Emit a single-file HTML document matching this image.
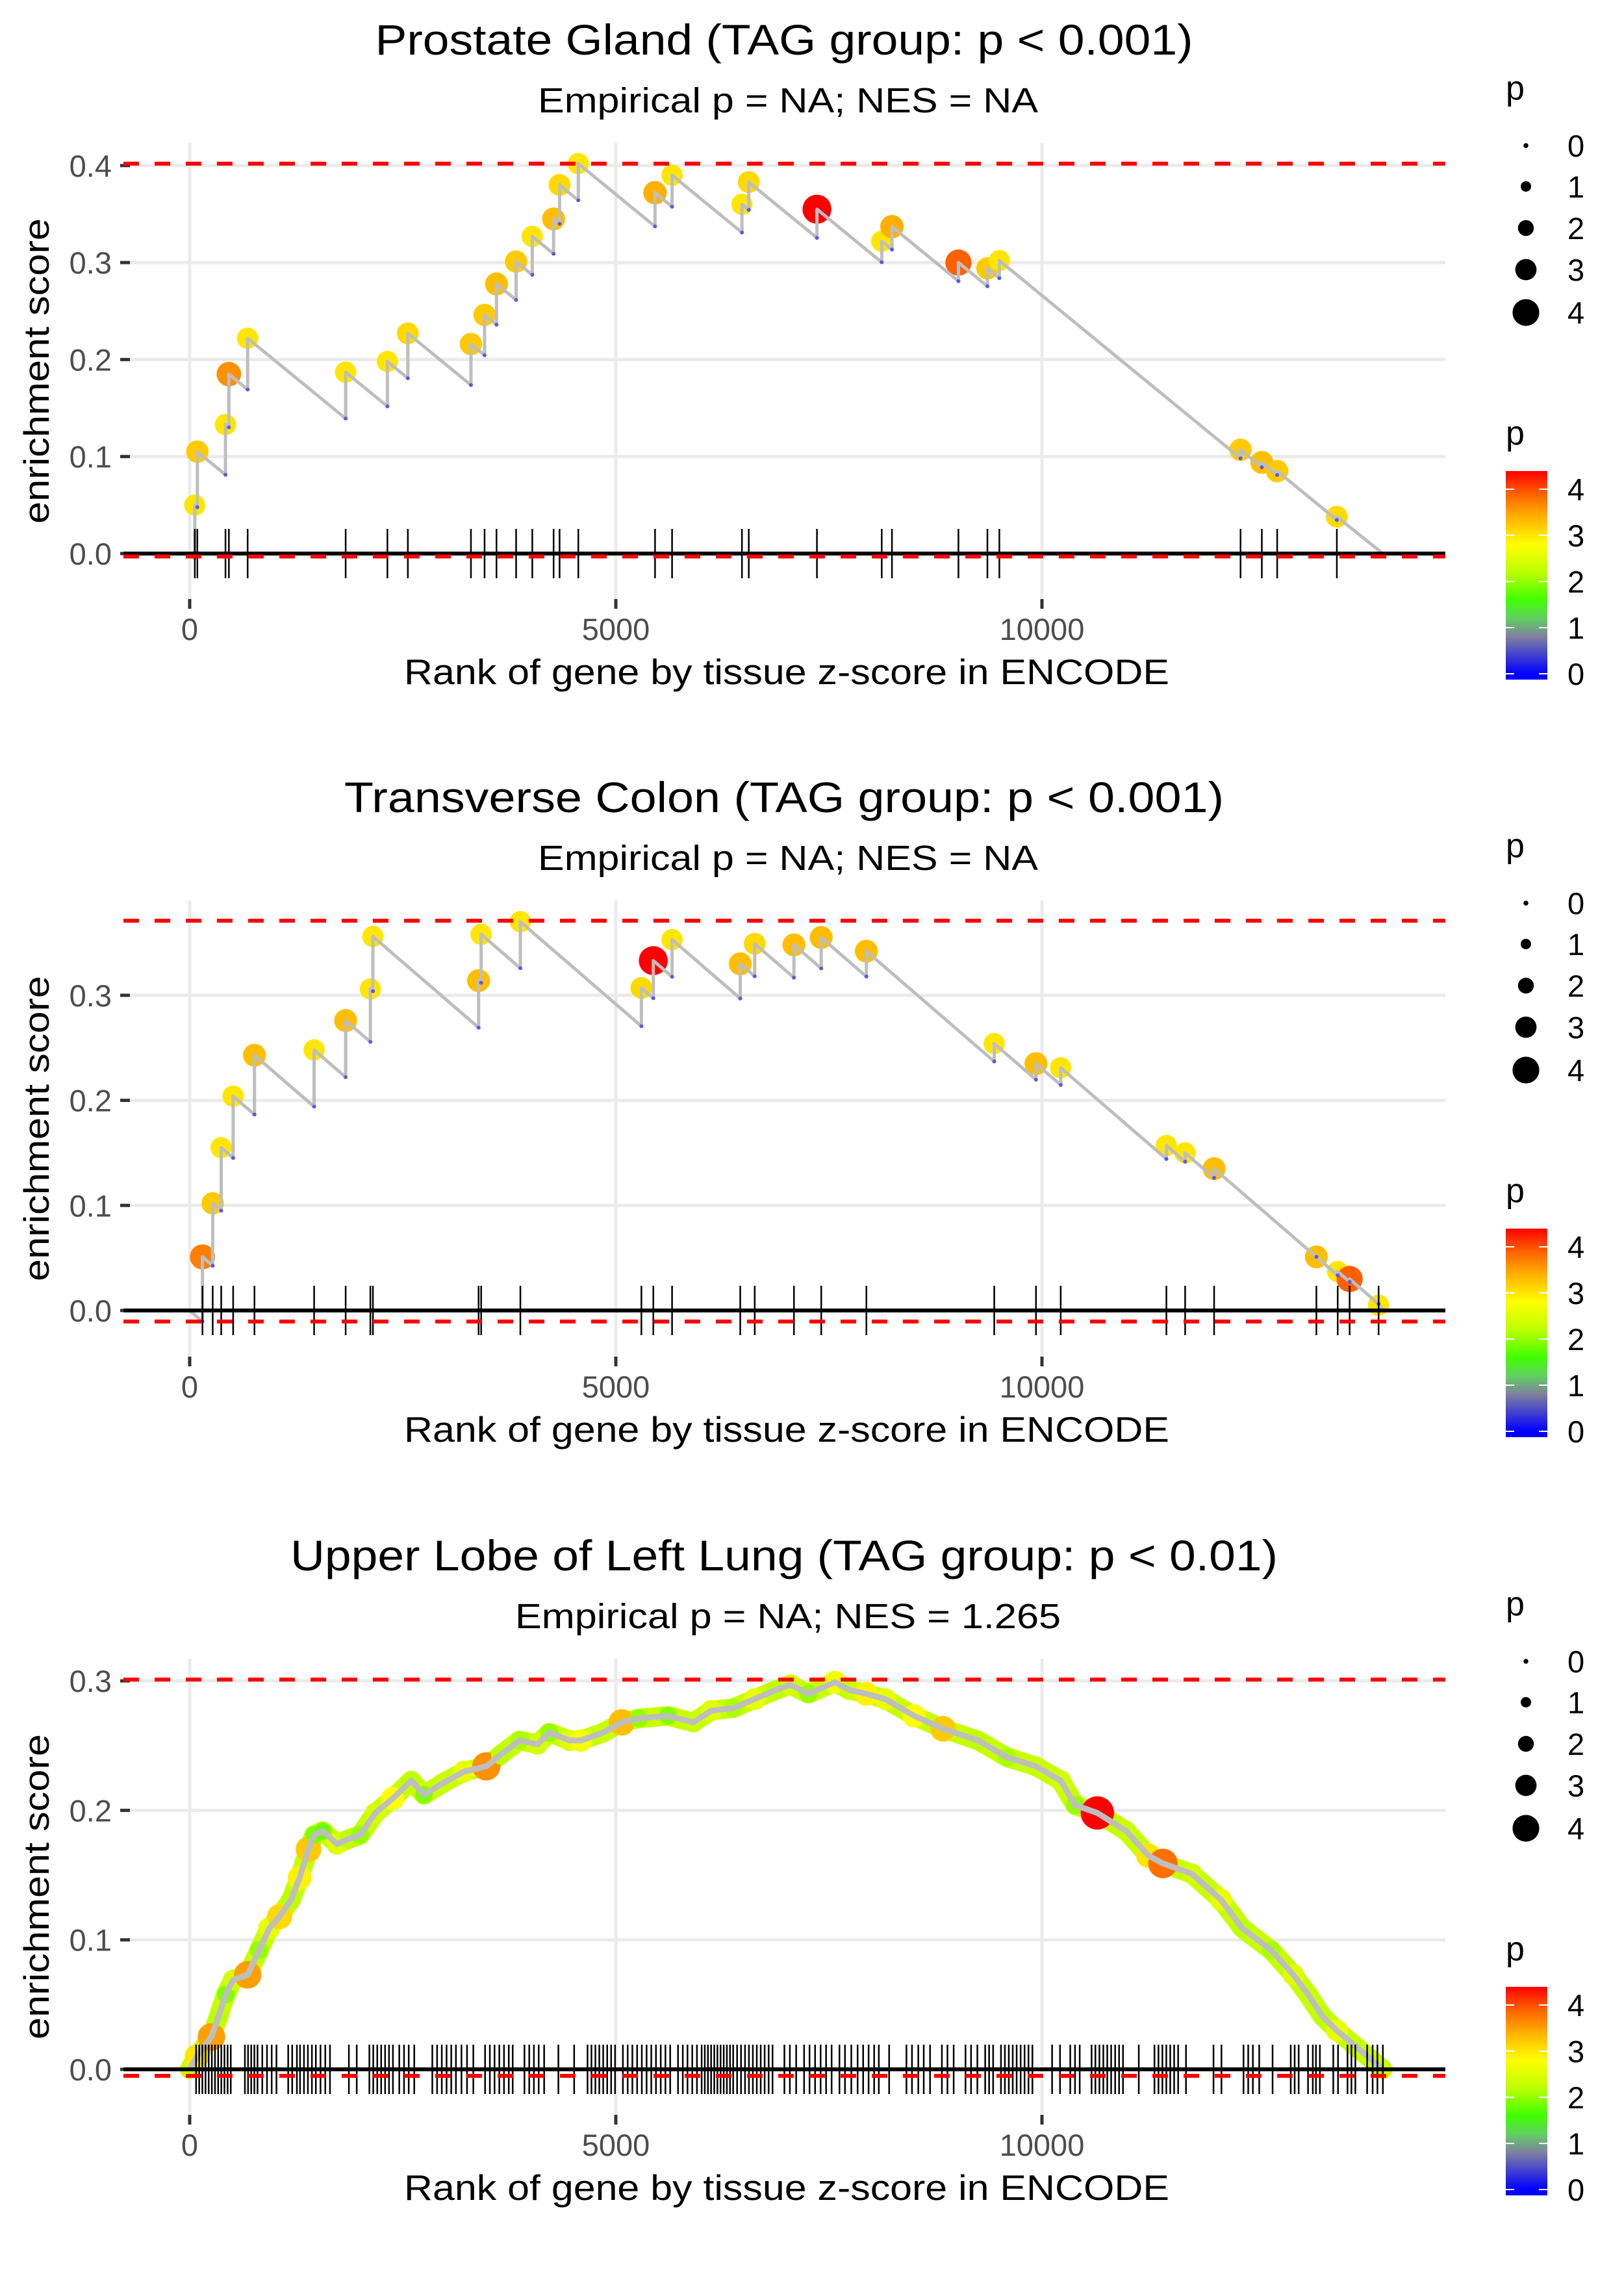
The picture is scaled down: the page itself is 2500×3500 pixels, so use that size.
<!DOCTYPE html>
<html><head><meta charset="utf-8"><style>
html,body{margin:0;padding:0;background:#fff}
svg{display:block}
text{font-family:"Liberation Sans",Arial,sans-serif}
</style></head><body>
<svg id="root" width="2500" height="3500" viewBox="0 0 2500 3500" xmlns="http://www.w3.org/2000/svg"></svg>
<script>
// ---------- Panel 1: Prostate Gland ----------
const p1Ranks = [60,90,420,460,680,1830,2320,2560,3300,3460,3600,3830,4020,4270,4340,4560,5460,5660,6480,6560,7360,8120,8240,9020,9360,9500,12330,12580,12760,13460];
const p1ES = [0.050,0.105,0.133,0.185,0.222,0.187,0.198,0.227,0.216,0.246,0.278,0.301,0.327,0.345,0.380,0.402,0.372,0.390,0.360,0.383,0.355,0.322,0.337,0.300,0.294,0.302,0.107,0.094,0.085,0.038];
const p1P = [3.0,3.2,3.0,3.6,3.0,3.0,3.0,3.1,3.2,3.2,3.3,3.2,3.0,3.3,3.1,3.0,3.4,3.0,3.0,3.1,4.4,3.0,3.4,3.9,3.2,3.0,3.2,3.3,3.2,3.1];
const p1YTicks = [0.0,0.1,0.2,0.3,0.4];
const p1Bounds = [0.402,-0.003];

// ---------- Panel 2: Transverse Colon ----------
const p2Ranks = [150,270,370,510,760,1460,1830,2120,2150,3390,3420,3880,5300,5440,5660,6460,6630,7090,7410,7940,9440,9930,10220,11460,11680,12020,13220,13470,13610,13950];
const p2ES = [0.051,0.102,0.155,0.204,0.243,0.248,0.276,0.306,0.356,0.314,0.358,0.370,0.307,0.333,0.353,0.330,0.349,0.348,0.355,0.342,0.254,0.235,0.231,0.157,0.150,0.135,0.051,0.037,0.030,0.005];
const p2P = [3.7,3.2,3.0,3.0,3.3,3.0,3.3,3.0,3.0,3.3,3.0,3.0,3.1,4.4,3.0,3.3,3.1,3.3,3.3,3.3,3.0,3.3,3.0,3.0,3.0,3.3,3.3,3.0,3.9,3.0];
const p2YTicks = [0.0,0.1,0.2,0.3];
const p2Bounds = [0.371,-0.0105];

// ---------- Panel 3: Upper Lobe of Left Lung ----------
const p3CurveRanks = [85,255,340,425,510,680,815,935,1055,1190,1290,1395,1460,1560,1730,1870,2000,2180,2380,2600,2750,2970,3220,3480,3650,3870,4080,4220,4460,4590,4850,5070,5270,5610,5910,6120,6380,6630,6880,7050,7260,7570,7740,7940,8160,8500,8840,9250,9590,9930,10220,10390,10650,10990,11250,11420,11760,12100,12350,12690,12950,13120,13290,13460];
const p3CurveES = [0.010,0.025,0.041,0.058,0.069,0.073,0.092,0.109,0.118,0.131,0.148,0.170,0.181,0.184,0.174,0.178,0.181,0.198,0.209,0.223,0.212,0.221,0.230,0.234,0.243,0.254,0.251,0.260,0.254,0.254,0.260,0.268,0.271,0.273,0.268,0.277,0.279,0.286,0.293,0.297,0.290,0.299,0.293,0.290,0.286,0.273,0.263,0.254,0.241,0.234,0.223,0.204,0.198,0.184,0.165,0.159,0.151,0.131,0.109,0.092,0.073,0.058,0.041,0.030];
const p3CurveP = [3.0,3.5,2.2,1.9,2.4,3.5,2.0,2.6,3.1,2.2,2.9,3.2,1.9,1.8,2.5,2.2,2.0,2.4,2.8,2.2,1.9,2.3,2.6,3.6,2.2,2.1,2.4,2.0,2.5,2.7,2.3,3.3,2.0,1.9,2.3,2.5,2.1,2.6,2.2,2.4,2.0,2.7,2.3,2.9,2.6,2.8,3.2,2.2,2.1,2.3,2.4,2.0,4.4,2.3,3.0,3.8,2.4,2.6,2.2,2.1,2.5,2.3,2.2,2.6];
const p3Hits = [75,112,149,186,223,260,297,334,371,408,445,482,648,685,722,759,796,852,907,962,1018,1156,1203,1258,1295,1341,1387,1434,1480,1535,1591,1646,1868,1960,2108,2154,2201,2247,2293,2339,2385,2459,2515,2570,2635,2847,2903,2958,3014,3069,3124,3189,3254,3328,3466,3522,3577,3633,3688,3744,3790,3928,3984,4039,4095,4159,4326,4511,4668,4714,4760,4806,4852,4899,4945,4991,5083,5139,5194,5250,5305,5361,5416,5471,5527,5582,5638,5730,5786,5841,5897,5952,6007,6044,6081,6118,6155,6192,6229,6266,6303,6340,6377,6423,6469,6516,6562,6608,6654,6700,6746,6793,6839,6978,7042,7116,7209,7273,7338,7403,7467,7532,7624,7689,7763,7837,7902,7966,8031,8086,8207,8410,8475,8549,8613,8687,8826,8891,8964,9103,9168,9242,9334,9380,9427,9519,9565,9611,9657,9703,9750,9796,9842,9888,10119,10212,10332,10388,10443,10582,10627,10674,10720,10766,10812,10859,10905,10951,11136,11320,11367,11413,11459,11505,11551,11598,11690,12013,12106,12365,12420,12475,12549,12706,12919,12965,13012,13122,13178,13215,13261,13418,13474,13585,13631,13677,13816,13880,13936,14000];
const p3YTicks = [0.0,0.1,0.2,0.3];
const p3Bounds = [0.301,-0.005];

const xTicks = [0,5000,10000];
const xTickLabels = ["0","5000","10000"];
const legendSizes = [0,1,2,3,4];
const colorbarTicks = [0,1,2,3,4];
const N_GENES = 14000;

const NS = "http://www.w3.org/2000/svg";
const root = document.getElementById('root');
function mk(tag, attrs, parent){
  const e = document.createElementNS(NS, tag);
  for (const k in attrs) e.setAttribute(k, attrs[k]);
  (parent||root).appendChild(e);
  return e;
}
const X0 = 292, XK = 0.1312;
function xs(r){ return X0 + r*XK; }
const stops = [[0,[0,0,255]],[0.8,[128,128,160]],[1.2,[96,208,96]],[1.6,[64,255,0]],[2.2,[190,255,0]],[2.8,[255,255,0]],[3.0,[255,230,0]],[3.4,[255,176,0]],[3.9,[255,96,0]],[4.4,[255,0,0]]];
function pcol(p){
  if (p<=stops[0][0]) return 'rgb('+stops[0][1].join(',')+')';
  for (let i=1;i<stops.length;i++){
    if (p<=stops[i][0]){
      const a=stops[i-1], b=stops[i], t=(p-a[0])/(b[0]-a[0]);
      const c=a[1].map((v,j)=>Math.round(v+(b[1][j]-v)*t));
      return 'rgb('+c.join(',')+')';
    }
  }
  return 'rgb(255,0,0)';
}
function prad(p){ return 3.8 + 4.2*p; }

const panels = [
  {off:0, y0:852, k:1493, yt:p1YTicks, bounds:p1Bounds, title:"Prostate Gland (TAG group: p < 0.001)", tlen:1259, sub:"Empirical p = NA; NES = NA", slen:770, type:'step', ranks:p1Ranks, es:p1ES, p:p1P, dec:7.2e-5},
  {off:1166, y0:2017, k:1617, yt:p2YTicks, bounds:p2Bounds, title:"Transverse Colon (TAG group: p < 0.001)", tlen:1354, sub:"Empirical p = NA; NES = NA", slen:770, type:'step', ranks:p2Ranks, es:p2ES, p:p2P, dec:7.0e-5},
  {off:2333, y0:3185, k:1993, yt:p3YTicks, bounds:p3Bounds, title:"Upper Lobe of Left Lung (TAG group: p < 0.01)", tlen:1520, sub:"Empirical p = NA; NES = 1.265", slen:840, type:'curve'}
];

panels.forEach((P, idx) => {
  const g = mk('g', {});
  
  
  const top = 220 + P.off, bot = 922 + P.off, left = 190, right = 2225;
  const ys = v => P.y0 - v*P.k;
  const t = mk('text', {x:1207, y:84+P.off, 'text-anchor':'middle', 'font-size':66, fill:'#000', textLength:P.tlen, lengthAdjust:'spacingAndGlyphs'}, g);
  t.textContent = P.title;
  
  
  const s = mk('text', {x:1213, y:173+P.off, 'text-anchor':'middle', 'font-size':54, fill:'#000', textLength:P.slen, lengthAdjust:'spacingAndGlyphs'}, g);
  s.textContent = P.sub;
  
  
  P.yt.forEach(v => {
    const l = mk('line', {x1:left, x2:right, y1:ys(v), y2:ys(v), stroke:'#ebebeb', 'stroke-width':5}, g);
    
    
  });
  xTicks.forEach(v => {
    const l = mk('line', {x1:xs(v), x2:xs(v), y1:top, y2:bot, stroke:'#ebebeb', 'stroke-width':5}, g);
    
    
  });
  P.yt.forEach(v => {
    const tk = mk('line', {x1:185, x2:200, y1:ys(v), y2:ys(v), stroke:'#333', 'stroke-width':5}, g);
    
    
    const lb = mk('text', {x:172, y:ys(v)+17, 'text-anchor':'end', 'font-size':47, fill:'#4d4d4d'}, g);
    lb.textContent = v.toFixed(1);
    
    
  });
  xTicks.forEach((v,i) => {
    const tk = mk('line', {x1:xs(v), x2:xs(v), y1:bot, y2:bot+15, stroke:'#333', 'stroke-width':5}, g);
    
    
    const lb = mk('text', {x:xs(v), y:985+P.off, 'text-anchor':'middle', 'font-size':47, fill:'#4d4d4d'}, g);
    lb.textContent = xTickLabels[i];
    
    
  });
  const xt = mk('text', {x:1211, y:1053+P.off, 'text-anchor':'middle', 'font-size':55, fill:'#000', textLength:1178, lengthAdjust:'spacingAndGlyphs'}, g);
  xt.textContent = "Rank of gene by tissue z-score in ENCODE";
  
  
  const cy = (top+bot)/2;
  const yt = mk('text', {x:0, y:0, 'text-anchor':'middle', 'font-size':55, fill:'#000', transform:'translate(75,'+cy+') rotate(-90)', textLength:470, lengthAdjust:'spacingAndGlyphs'}, g);
  yt.textContent = "enrichment score";
  
  

  const bottoms = [];
  let path = '';
  let hits, rs, es, ps;
  if (P.type === 'step') {
    rs = P.ranks; es = P.es; ps = P.p; hits = P.ranks;
    let prevR = 0, prevE = 0;
    path = 'M'+xs(0)+','+ys(0);
    for (let i=0;i<rs.length;i++){
      const bE = prevE - (rs[i]-prevR)*P.dec;
      path += ' L'+xs(rs[i])+','+ys(bE)+' L'+xs(rs[i])+','+ys(es[i]);
      bottoms.push([rs[i], bE]);
      prevR = rs[i]; prevE = es[i];
    }
    path += ' L'+xs(N_GENES)+','+ys(Math.max(0, prevE-(N_GENES-prevR)*P.dec));
  } else {
    rs = p3CurveRanks; es = p3CurveES; ps = p3CurveP; hits = p3Hits;
    path = 'M'+xs(0)+','+ys(0);
    for (let i=0;i<rs.length;i++) path += ' L'+xs(rs[i])+','+ys(es[i]);
    path += ' L'+xs(N_GENES)+','+ys(0);
    // dense overlapping points band
    const band = mk('path', {d:path, fill:'none', stroke:'#c8ff00', 'stroke-width':30, 'stroke-linejoin':'round', 'stroke-linecap':'round'}, g);
    
    
  }
  const rMul = P.type === 'step' ? 1 : 1.15;
  for (let i=0;i<rs.length;i++){
    const c = mk('circle', {cx:xs(rs[i]), cy:ys(es[i]), r:prad(ps[i])*rMul, fill:pcol(ps[i])}, g);
    
    
  }
  const ln = mk('path', {d:path, fill:'none', stroke:'#bebebe', 'stroke-width':P.type==='step'?5:9, 'stroke-linejoin':'round'}, g);
  
  
  bottoms.forEach(b => {
    const c = mk('circle', {cx:xs(b[0]), cy:ys(b[1]), r:3, fill:'#5a5ae6'}, g);
    
    
  });
  hits.forEach(r => {
    const l = mk('line', {x1:xs(r), x2:xs(r), y1:P.y0-38, y2:P.y0+38, stroke:'#000', 'stroke-width':2.5}, g);
    
    
  });
  const z = mk('line', {x1:left, x2:right, y1:P.y0, y2:P.y0, stroke:'#000', 'stroke-width':6}, g);
  
  
  P.bounds.forEach(v => {
    const d = mk('line', {x1:left, x2:right, y1:ys(v), y2:ys(v), stroke:'#ff0000', 'stroke-width':6, 'stroke-dasharray':'24 24'}, g);
    
    
  });

  const lg = mk('g', {}, g);
  
  
  const lt = mk('text', {x:2318, y:153+P.off, 'font-size':52, fill:'#000'}, lg);
  lt.textContent = 'p';
  const legY = [224,287,351,415,481];
  legendSizes.forEach((v,i) => {
    const c = mk('circle', {cx:2349, cy:legY[i]+P.off, r:prad(v)}, lg);
    
    
    const tx = mk('text', {x:2413, y:legY[i]+17+P.off, 'font-size':47, fill:'#000'}, lg);
    tx.textContent = String(v);
    
    
  });
  const cg = mk('g', {}, g);
  
  
  const ct = mk('text', {x:2318, y:684+P.off, 'font-size':52, fill:'#000'}, cg);
  ct.textContent = 'p';
  const gid = 'cb'+idx;
  const defs = mk('defs', {}, cg);
  const lgd = mk('linearGradient', {id:gid, x1:0, y1:1, x2:0, y2:0}, defs);
  const vmin = -0.13, vmax = 4.39;
  mk('stop', {offset:0, 'stop-color':'#0000ff'}, lgd);
  stops.forEach(st => {
    const o = Math.max(0, Math.min(1, (st[0]-vmin)/(vmax-vmin)));
    mk('stop', {offset:o, 'stop-color':'rgb('+st[1].join(',')+')'}, lgd);
  });
  const bar = mk('rect', {x:2318, y:725+P.off, width:64, height:321, fill:'url(#'+gid+')'}, cg);
  
  
  colorbarTicks.forEach(v => {
    const yy = 1037 - v*71 + P.off;
    mk('line', {x1:2318, x2:2331, y1:yy, y2:yy, stroke:'#fff', 'stroke-width':2}, cg);
    mk('line', {x1:2369, x2:2382, y1:yy, y2:yy, stroke:'#fff', 'stroke-width':2}, cg);
    const tx = mk('text', {x:2413, y:yy+17, 'font-size':47, fill:'#000'}, cg);
    tx.textContent = String(v);
    
    
  });
});
</script>
</body></html>
